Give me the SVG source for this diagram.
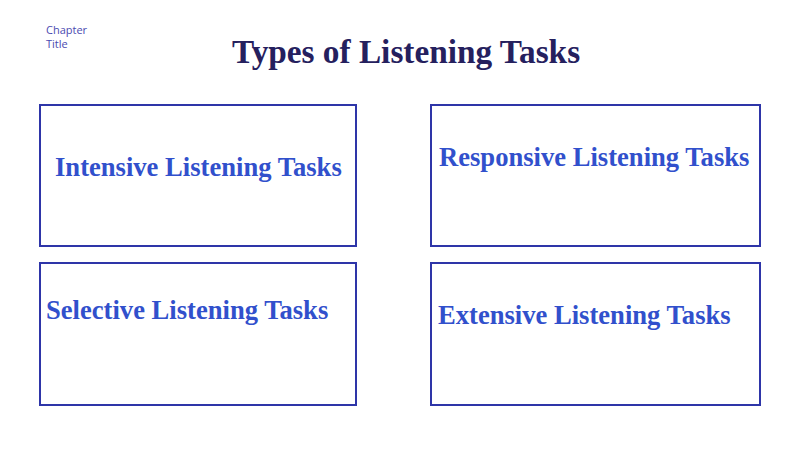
<svg xmlns="http://www.w3.org/2000/svg" width="800" height="449" viewBox="0 0 800 449">
<style>
.box{fill:#ffffff;stroke:#2e35a8;stroke-width:2}
.lbl{font-family:"Liberation Serif",serif;font-weight:bold;font-size:26.6px;fill:#3150cc}
.title{font-family:"Liberation Serif",serif;font-weight:bold;font-size:33.3px;fill:#25205e}
.ch{font-family:"Open Sans","Noto Sans",sans-serif;font-size:11px;fill:#4a4ab0}
</style>
<rect width="800" height="449" fill="#ffffff"/>
<g id="chapter"><text class="ch" x="46" y="34">Chapter</text><text class="ch" x="46" y="48">Title</text></g>
<g id="title"><text class="title" x="406" y="63" text-anchor="middle">Types of Listening Tasks</text></g>
<g id="intensive"><rect class="box" x="40" y="105" width="316" height="141"/><text class="lbl" x="55" y="176">Intensive Listening Tasks</text></g>
<g id="responsive"><rect class="box" x="431" y="105" width="329" height="141"/><text class="lbl" x="439" y="166">Responsive Listening Tasks</text></g>
<g id="selective"><rect class="box" x="40" y="263" width="316" height="142"/><text class="lbl" x="46" y="319">Selective Listening Tasks</text></g>
<g id="extensive"><rect class="box" x="431" y="263" width="329" height="142"/><text class="lbl" x="438" y="324">Extensive Listening Tasks</text></g>
<g id="connectors"></g>
</svg>
